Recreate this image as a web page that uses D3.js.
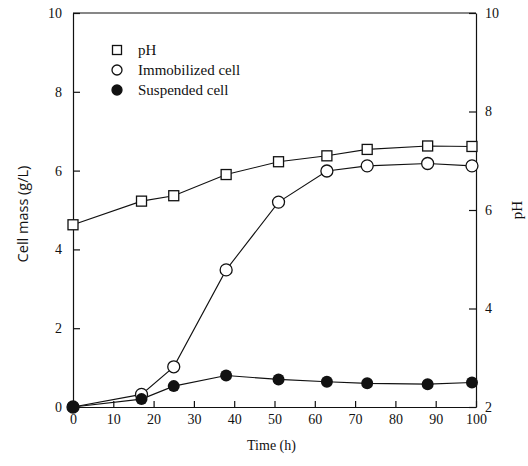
<!DOCTYPE html>
<html>
<head>
<meta charset="utf-8">
<script src="https://cdn.jsdelivr.net/npm/d3@7"></script>
<style>
  body { margin: 0; background: #fff; }
  svg text { font-family: "Liberation Serif", "DejaVu Serif", serif; fill: #111; }
  .axis path, .axis line { stroke: #111; stroke-width: 1.2; }
</style>
</head>
<body>
<div id="chart"></div>
<script>
// sampling times (h)
var time = [0, 17, 25, 38, 51, 63, 73, 88, 99];
// pH (right axis)
var phValues = [5.70, 6.18, 6.29, 6.72, 6.98, 7.10, 7.23, 7.30, 7.29];
// cell mass (g/L, left axis)
var immobilized = [0, 0.32, 1.02, 3.48, 5.20, 5.99, 6.12, 6.18, 6.12];
var suspended = [0, 0.20, 0.53, 0.80, 0.70, 0.64, 0.60, 0.58, 0.62];

var xTicks = [0, 10, 20, 30, 40, 50, 60, 70, 80, 90, 100];
var leftTicks = [0, 2, 4, 6, 8, 10];
var rightTicks = [2, 4, 6, 8, 10];
var legendLabels = ["pH", "Immobilized cell", "Suspended cell"];

var width = 528, height = 466;
var margin = { top: 13, right: 52, bottom: 59, left: 73 };

var svg = d3.select("#chart").append("svg")
    .attr("width", width)
    .attr("height", height);

var x = d3.scaleLinear().domain([0, 100]).range([margin.left, width - margin.right]);
var yL = d3.scaleLinear().domain([0, 10]).range([height - margin.bottom, margin.top]);
var yR = d3.scaleLinear().domain([2, 10]).range([height - margin.bottom, margin.top]);

// frame top line
svg.append("line")
    .attr("x1", x(0)).attr("x2", x(100))
    .attr("y1", yL(10)).attr("y2", yL(10))
    .attr("stroke", "#111").attr("stroke-width", 1.2);

var gx = svg.append("g").attr("class", "axis")
    .attr("transform", "translate(0," + yL(0) + ")")
    .call(d3.axisBottom(x).tickValues(xTicks).tickSize(-6).tickSizeOuter(0).tickPadding(7));

var gl = svg.append("g").attr("class", "axis")
    .attr("transform", "translate(" + x(0) + ",0)")
    .call(d3.axisLeft(yL).tickValues(leftTicks).tickSize(-7).tickSizeOuter(0).tickPadding(11));

var gr = svg.append("g").attr("class", "axis")
    .attr("transform", "translate(" + x(100) + ",0)")
    .call(d3.axisRight(yR).tickValues(rightTicks).tickSize(-7).tickSizeOuter(0).tickPadding(9));

svg.selectAll(".axis text").style("font-size", "14px");

// axis titles
svg.append("text")
    .attr("x", (x(0) + x(100)) / 2 - 3).attr("y", 450)
    .attr("text-anchor", "middle")
    .style("font-size", "14px")
    .text("Time (h)");

svg.append("text")
    .attr("transform", "translate(28,214) rotate(-90)")
    .attr("text-anchor", "middle")
    .style("font-family", "'Open Sans', 'DejaVu Sans', sans-serif")
    .style("font-size", "14.5px")
    .text("Cell mass (g/L)");

svg.append("text")
    .attr("transform", "translate(522,210) rotate(-90)")
    .attr("text-anchor", "middle")
    .style("font-size", "15px")
    .text("pH");

// lines
var lineL = d3.line().x(function(d) { return x(d[0]); }).y(function(d) { return yL(d[1]); });
var lineR = d3.line().x(function(d) { return x(d[0]); }).y(function(d) { return yR(d[1]); });

function pairs(vals) { return time.map(function(t, i) { return [t, vals[i]]; }); }

svg.append("path").datum(pairs(phValues))
    .attr("d", lineR).attr("fill", "none").attr("stroke", "#111").attr("stroke-width", 1.1);
svg.append("path").datum(pairs(immobilized))
    .attr("d", lineL).attr("fill", "none").attr("stroke", "#111").attr("stroke-width", 1.1);
svg.append("path").datum(pairs(suspended))
    .attr("d", lineL).attr("fill", "none").attr("stroke", "#111").attr("stroke-width", 1.1);

// markers
svg.selectAll(".sq").data(pairs(phValues))
  .enter().append("rect")
    .attr("x", function(d) { return x(d[0]) - 5; })
    .attr("y", function(d) { return yR(d[1]) - 5; })
    .attr("width", 10).attr("height", 10)
    .attr("fill", "#fff").attr("stroke", "#111").attr("stroke-width", 1.3);

svg.selectAll(".oc").data(pairs(immobilized))
  .enter().append("circle")
    .attr("cx", function(d) { return x(d[0]); })
    .attr("cy", function(d) { return yL(d[1]); })
    .attr("r", 6)
    .attr("fill", "#fff").attr("stroke", "#111").attr("stroke-width", 1.3);

svg.selectAll(".fc").data(pairs(suspended))
  .enter().append("circle")
    .attr("cx", function(d) { return x(d[0]); })
    .attr("cy", function(d) { return yL(d[1]); })
    .attr("r", 6)
    .attr("fill", "#111");

// legend
var legend = svg.append("g").attr("transform", "translate(117,50)");
legendLabels.forEach(function(lab, i) {
  var g = legend.append("g").attr("transform", "translate(0," + i * 20 + ")");
  if (i === 0) {
    g.append("rect").attr("x", -4.5).attr("y", -4.5).attr("width", 9).attr("height", 9)
      .attr("fill", "#fff").attr("stroke", "#111").attr("stroke-width", 1.3);
  } else {
    g.append("circle").attr("r", 5)
      .attr("fill", i === 1 ? "#fff" : "#111").attr("stroke", "#111").attr("stroke-width", 1.3);
  }
  g.append("text").attr("x", 21).attr("y", 5)
    .style("font-size", "15px")
    .text(lab);
});
</script>
</body>
</html>
